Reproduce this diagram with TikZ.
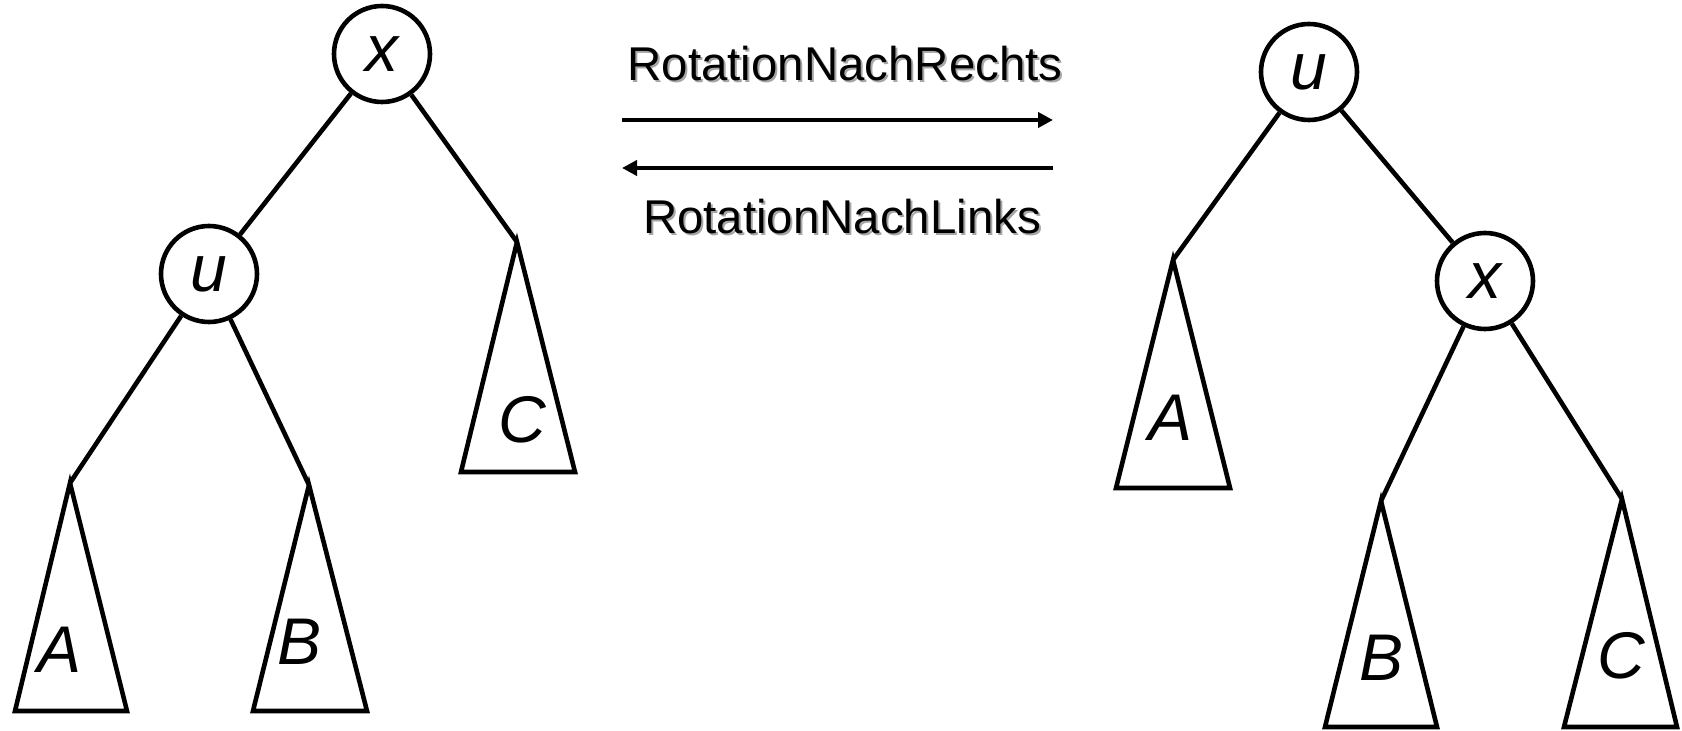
\documentclass[tikz,border=0pt]{standalone}
\usepackage{fontspec}
\setmainfont{Liberation Sans}
\usetikzlibrary{arrows.meta}
\newcommand{\shadowed}[1]{\makebox[0pt][l]{\hspace{1pt}\raisebox{-1pt}{\textcolor{black!35}{#1}}}#1}

\begin{document}
\begin{tikzpicture}[x=0.5pt, y=-0.5pt, >={Triangle[length=7.5pt,width=7.5pt]}]
	%define styles
	\tikzset{
		vertex/.style={circle, draw, line width=2.3pt, minimum size=48pt, inner sep=0pt, font=\itshape\fontsize{33}{33}\selectfont},
		subtree/.style={draw, line width=2.3pt, line join=miter},
		treelabel/.style={inner sep=0pt, font=\itshape\fontsize{33}{33}\selectfont},
		edge/.style={line width=2.3pt},
		rotlabel/.style={anchor=base, inner sep=0pt, font=\fontsize{23.7}{24}\selectfont},
		rotarrow/.style={line width=2.3pt, ->},
	}
	\useasboundingbox (0,0) rectangle (1682,731);
	%left tree
	\node[vertex] (lx) at (382,54) {x};
	\node[vertex] (lu) at (209,274) {u};
	\coordinate (lA) at (70,483);
	\coordinate (lB) at (309,485);
	\coordinate (lC) at (517,242);
	\draw[subtree] (lA) -- (15,711) -- (127,711) -- cycle;
	\draw[subtree] (lB) -- (253,711) -- (367,711) -- cycle;
	\draw[subtree] (lC) -- (461,472) -- (575,472) -- cycle;
	\node[treelabel] (lAt) at (60,650) {A};
	\node[treelabel] (lBt) at (300,642) {B};
	\node[treelabel] (lCt) at (522,420) {C};
	\draw[edge] (lx) -- (lu);
	\draw[edge] (lx) -- (lC);
	\draw[edge] (lu) -- (lA);
	\draw[edge] (lu) -- (lB);
	%right tree
	\node[vertex] (ru) at (1309,72) {u};
	\node[vertex] (rx) at (1485,281) {x};
	\coordinate (rA) at (1173,260);
	\coordinate (rB) at (1381,501);
	\coordinate (rC) at (1622,499);
	\draw[subtree] (rA) -- (1116,488) -- (1230,488) -- cycle;
	\draw[subtree] (rB) -- (1325,727) -- (1437,727) -- cycle;
	\draw[subtree] (rC) -- (1564,727) -- (1677,727) -- cycle;
	\node[treelabel] (rAt) at (1170,418) {A};
	\node[treelabel] (rBt) at (1381,658) {B};
	\node[treelabel] (rCt) at (1621,656) {C};
	\draw[edge] (ru) -- (rA);
	\draw[edge] (ru) -- (rx);
	\draw[edge] (rx) -- (rB);
	\draw[edge] (rx) -- (rC);
	%rotations
	\node[rotlabel] (rechts) at (845,81) {\shadowed{RotationNachRechts}};
	\node[rotlabel] (links) at (842,234) {\shadowed{RotationNachLinks}};
	\coordinate (r1) at (622,120);
	\coordinate (r2) at (1053,120);
	\coordinate (l1) at (1053,168);
	\coordinate (l2) at (622,168);
	\draw[rotarrow] (r1) -- (r2);
	\draw[rotarrow] (l1) -- (l2);
\end{tikzpicture}
\end{document}
